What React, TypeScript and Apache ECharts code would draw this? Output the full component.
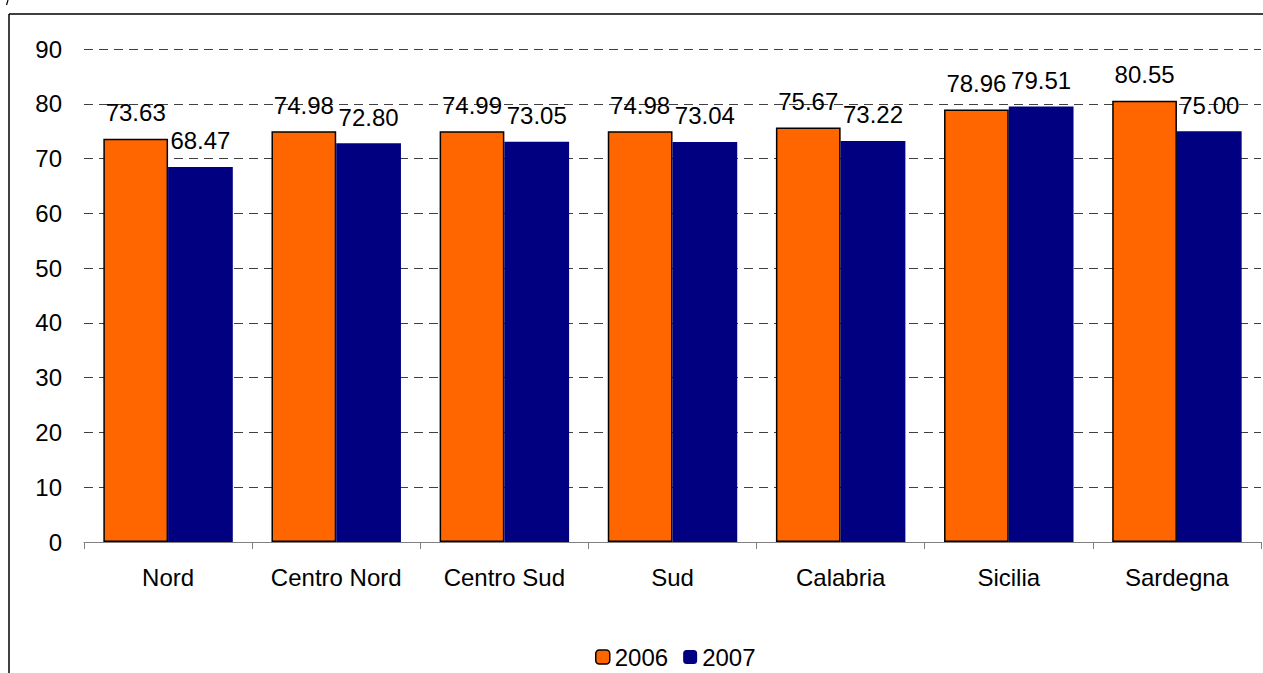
import React, { useEffect, useRef } from "react";
import * as echarts from "echarts";

const categories = ["Nord", "Centro Nord", "Centro Sud", "Sud", "Calabria", "Sicilia", "Sardegna"];
const series2006 = [73.63, 74.98, 74.99, 74.98, 75.67, 78.96, 80.55];
const series2007 = [68.47, 72.8, 73.05, 73.04, 73.22, 79.51, 75.0];
const seriesNames = ["2006", "2007"];

const FONT = "Liberation Sans, Arial, sans-serif";

export default function App() {
  const ref = useRef<HTMLDivElement>(null);
  useEffect(() => {
    if (!ref.current) return;
    const chart = echarts.init(ref.current, null, { renderer: "svg" });
    const labelStyle = {
      show: true,
      position: "top",
      distance: 14,
      color: "#000",
      fontSize: 24,
      fontFamily: FONT,
      formatter: (p: any) => Number(p.value).toFixed(2),
    };
    chart.setOption({
      animation: false,
      backgroundColor: "#fff",
      textStyle: { fontFamily: FONT },
      grid: { left: 84, right: 2, top: 49, bottom: 131, containLabel: false },
      legend: {
        left: 590,
        top: 640,
        itemWidth: 14,
        itemHeight: 14,
        itemGap: 15,
        textStyle: { fontSize: 24, fontFamily: FONT, color: "#000" },
        data: [
          { name: seriesNames[0], itemStyle: { color: "#FF6600", borderColor: "#000", borderWidth: 1.5 } },
          { name: seriesNames[1], itemStyle: { color: "#000080", borderWidth: 0 } },
        ],
      },
      xAxis: {
        type: "category",
        data: categories,
        axisLine: { show: true, lineStyle: { color: "#808080", width: 1 } },
        axisTick: { show: true, interval: 0, alignWithLabel: false, length: 7, lineStyle: { color: "#808080" } },
        axisLabel: { interval: 0, fontSize: 24, color: "#000", margin: 23, fontFamily: FONT },
        splitLine: { show: false },
      },
      yAxis: {
        type: "value",
        min: 0,
        max: 90,
        interval: 10,
        axisLine: { show: false },
        axisTick: { show: false },
        axisLabel: { fontSize: 24, color: "#000", margin: 22, fontFamily: FONT },
        splitLine: { show: true, lineStyle: { color: "#404040", type: [9, 6], width: 1 } },
      },
      series: [
        {
          name: seriesNames[0],
          type: "bar",
          data: series2006,
          barGap: "0%",
          barCategoryGap: "23%",
          itemStyle: { color: "#FF6600", borderColor: "#000", borderWidth: 1.5 },
          label: labelStyle,
        },
        {
          name: seriesNames[1],
          type: "bar",
          data: series2007,
          barGap: "0%",
          barCategoryGap: "23%",
          itemStyle: { color: "#000080", borderWidth: 0 },
          label: labelStyle,
        },
      ],
      graphic: [
        { type: "line", shape: { x1: 9, y1: 14, x2: 1263, y2: 14 }, style: { stroke: "#000", lineWidth: 1.5 } },
        { type: "line", shape: { x1: 9, y1: 14, x2: 9, y2: 673 }, style: { stroke: "#000", lineWidth: 1.5 } },
        { type: "line", shape: { x1: 8, y1: 0, x2: 6.5, y2: 5 }, style: { stroke: "#000", lineWidth: 1.2 } },
      ],
    });
    return () => chart.dispose();
  }, []);
  return (
    <div
      ref={ref}
      style={{ position: "fixed", left: 0, top: 0, width: 1263, height: 673 }}
    />
  );
}
